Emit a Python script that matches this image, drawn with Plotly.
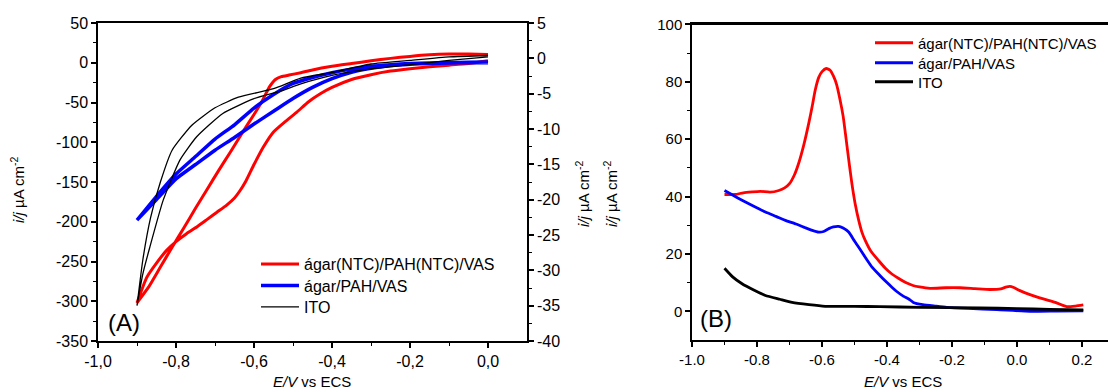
import plotly.graph_objects as go

# ---------------- Panel A data (E / V vs ECS, j / uA cm-2) ----------------
# red: agar(NTC)/PAH(NTC)/VAS  (left axis) - two branches of the voltammogram
a_red_E1 = [0.0, -0.05, -0.1, -0.15, -0.2, -0.25, -0.3, -0.35, -0.4, -0.45, -0.48, -0.51, -0.53,
            -0.545, -0.56, -0.58, -0.6, -0.63, -0.66, -0.69, -0.72, -0.75, -0.78, -0.81, -0.84, -0.87, -0.9]
a_red_j1 = [10.4, 11, 11, 10, 8, 5.5, 2.5, -1, -4.5, -9, -12.5, -15.5, -17.5,
            -21, -30, -49, -65, -88, -112, -135, -159, -183, -208, -232, -257, -282, -302]
a_red_E2 = [-0.9, -0.875, -0.85, -0.824, -0.8, -0.773, -0.745, -0.72, -0.695, -0.67, -0.65, -0.636,
            -0.62, -0.6, -0.576, -0.55, -0.52, -0.49, -0.46, -0.43, -0.4, -0.35, -0.3, -0.25, -0.2,
            -0.15, -0.1, -0.05, 0.0]
a_red_j2 = [-302, -270, -252, -236, -225, -215, -206, -197, -188, -179, -170, -161,
            -148, -128, -106, -87, -74, -62, -49, -39, -31, -21, -15, -10.5, -7.5,
            -5, -3, -1, 2.5]

# blue: agar/PAH/VAS (left axis)
a_blue_E1 = [0.0, -0.05, -0.1, -0.15, -0.2, -0.25, -0.3, -0.35, -0.4, -0.45, -0.5, -0.55, -0.6,
             -0.65, -0.7, -0.75, -0.8, -0.85, -0.9]
a_blue_j1 = [0.8, 0.6, 0.3, -0.3, -1.0, -2.5, -4.5, -8, -12.5, -18.5, -26, -40, -57,
             -78, -96, -118, -140, -168, -198]
a_blue_E2 = [-0.9, -0.85, -0.8, -0.75, -0.7, -0.65, -0.6, -0.55, -0.5, -0.45, -0.4, -0.35, -0.3,
             -0.25, -0.2, -0.15, -0.1, -0.05, 0.0]
a_blue_j2 = [-198, -172, -146, -128, -110, -94, -77, -61, -45, -31, -20, -12, -7,
             -3.5, -1.8, -0.8, -0.3, 0, 0]

# black: ITO (right axis)
a_ito_E1 = [0.0, -0.1, -0.2, -0.3, -0.4, -0.48, -0.55, -0.64, -0.7, -0.76, -0.81, -0.84, -0.865, -0.885, -0.9]
a_ito_j1 = [0.4, 0.2, -0.3, -0.8, -2.0, -2.8, -4.3, -5.5, -7.0, -9.5, -13, -17.5, -22.5, -28.5, -35]
a_ito_E2 = [-0.9, -0.885, -0.867, -0.833, -0.79, -0.747, -0.68, -0.6, -0.53, -0.48, -0.4, -0.3, -0.2, -0.1, 0.0]
a_ito_j2 = [-35, -30.5, -26.7, -20.1, -14.4, -11.1, -7.8, -5.7, -4.6, -3.6, -2.4, -1.5, -0.9, -0.3, 0.2]

# ---------------- Panel B data ----------------
b_red_E = [-0.9, -0.867, -0.842, -0.815, -0.79, -0.76, -0.733, -0.715, -0.70, -0.685, -0.672, -0.656,
           -0.641, -0.63, -0.621, -0.61, -0.6, -0.587, -0.575, -0.565, -0.555, -0.545, -0.535, -0.528,
           -0.518, -0.508, -0.498, -0.487, -0.477, -0.467, -0.45, -0.426, -0.405, -0.385, -0.365,
           -0.344, -0.32, -0.3, -0.268, -0.22, -0.175, -0.13, -0.083, -0.05, -0.035, -0.022, -0.01,
           0.009, 0.04, 0.081, 0.12, 0.153, 0.18, 0.204]
b_red_j = [40.7, 40.7, 41.3, 41.6, 41.8, 41.5, 42.1, 43, 44.5, 47.5, 51.5, 58,
           65.4, 71.5, 77, 81.5, 83.5, 84.6, 84, 82, 79, 74, 68, 62,
           53, 44.5, 37.5, 31.7, 27.5, 24.7, 21, 17.7, 15, 13, 11.5,
           10.1, 9, 8.5, 8, 8.2, 8.2, 7.9, 7.6, 7.8, 8.4, 8.7, 8.3,
           7.2, 5.8, 4.3, 3, 1.6, 1.8, 2.2]
b_blue_E = [-0.9, -0.875, -0.846, -0.81, -0.774, -0.74, -0.713, -0.68, -0.651, -0.63, -0.61, -0.595,
            -0.579, -0.565, -0.549, -0.535, -0.518, -0.5, -0.487, -0.465, -0.446, -0.422, -0.4,
            -0.385, -0.37, -0.35, -0.333, -0.319, -0.29, -0.25, -0.216, -0.15, -0.062, 0.04, 0.12, 0.204]
b_blue_j = [42.1, 40.5, 38.7, 36.6, 34.6, 33, 31.7, 30.4, 29.1, 28.2, 27.6, 27.8,
            28.8, 29.4, 29.6, 29, 27.6, 24.5, 22.3, 18.5, 15.4, 12.5, 10,
            8.4, 6.9, 5.3, 4.3, 3.1, 2.3, 1.8, 1.4, 1.0, 0.6, 0.0, 0.1, 0.2]
b_ito_E = [-0.9, -0.875, -0.846, -0.81, -0.774, -0.73, -0.692, -0.64, -0.59, -0.5, -0.422, -0.3,
           -0.114, 0.0, 0.1, 0.204]
b_ito_j = [15.0, 12.0, 9.6, 7.4, 5.5, 4.2, 3.1, 2.3, 1.75, 1.75, 1.6, 1.4, 1.2, 0.9, 0.7, 0.5]

names = ["ágar(NTC)/PAH(NTC)/VAS", "ágar/PAH/VAS", "ITO"]

# tick labels
a_xticks = [-1.0, -0.8, -0.6, -0.4, -0.2, 0.0]
a_xticktext = ["-1,0", "-0,8", "-0,6", "-0,4", "-0,2", "0,0"]
a_yticks = [50, 0, -50, -100, -150, -200, -250, -300, -350]
a_y2ticks = [5, 0, -5, -10, -15, -20, -25, -30, -35, -40]
b_xticks = [-1.0, -0.8, -0.6, -0.4, -0.2, 0.0, 0.2]
b_xticktext = ["-1.0", "-0.8", "-0.6", "-0.4", "-0.2", "0.0", "0.2"]
b_yticks = [0, 20, 40, 60, 80, 100]

RED, BLUE, BLACK = "#ff0000", "#0000ff", "#000000"
FONT = "Liberation Sans, Arial, sans-serif"

fig = go.Figure()

# Panel A
fig.add_trace(go.Scatter(x=a_red_E1 + a_red_E2, y=a_red_j1 + a_red_j2, mode="lines",
                         line=dict(color=RED, width=3, shape="spline", smoothing=0.5), name=names[0],
                         xaxis="x", yaxis="y", legend="legend", showlegend=True))
fig.add_trace(go.Scatter(x=a_blue_E1 + a_blue_E2, y=a_blue_j1 + a_blue_j2, mode="lines",
                         line=dict(color=BLUE, width=3.5, shape="spline", smoothing=0.5), name=names[1],
                         xaxis="x", yaxis="y", legend="legend3", showlegend=True))
fig.add_trace(go.Scatter(x=a_ito_E1 + a_ito_E2, y=a_ito_j1 + a_ito_j2, mode="lines",
                         line=dict(color=BLACK, width=1.3, shape="spline", smoothing=0.5), name=names[2],
                         xaxis="x", yaxis="y2", legend="legend4", showlegend=True))

# Panel B
fig.add_trace(go.Scatter(x=b_red_E, y=b_red_j, mode="lines",
                         line=dict(color=RED, width=2.8, shape="spline", smoothing=0.5),
                         name=names[0], xaxis="x2", yaxis="y3", legend="legend2", showlegend=True))
fig.add_trace(go.Scatter(x=b_blue_E, y=b_blue_j, mode="lines",
                         line=dict(color=BLUE, width=2.8, shape="spline", smoothing=0.5),
                         name=names[1], xaxis="x2", yaxis="y3", legend="legend5", showlegend=True))
fig.add_trace(go.Scatter(x=b_ito_E, y=b_ito_j, mode="lines",
                         line=dict(color=BLACK, width=2.8, shape="spline", smoothing=0.5),
                         name=names[2], xaxis="x2", yaxis="y3", legend="legend6", showlegend=True))

W, H = 1108, 392
def px(x):
    return x / W
def py(y):
    return 1 - y / H

axis_common = dict(showgrid=False, zeroline=False, showline=True, linecolor="black", linewidth=1.5,
                   ticks="outside", ticklen=5, tickwidth=1.5, tickcolor="black", automargin=False)
minor_common = dict(ticks="outside", ticklen=3, tickwidth=1.2, tickcolor="black")

def leg(x, y, size):
    return dict(x=px(x), y=py(y), xanchor="left", yanchor="middle",
                bgcolor="rgba(0,0,0,0)", font=dict(size=size), itemwidth=38,
                borderwidth=0, visible=True)

fig.update_layout(
    width=W, height=H, autosize=False, showlegend=True,
    margin=dict(l=0, r=0, t=0, b=0, autoexpand=False),
    paper_bgcolor="white", plot_bgcolor="white",
    font=dict(family=FONT, color="black", size=15),
    xaxis=dict(domain=[px(98), px(527)], range=[-1.0, 0.1], anchor="y", mirror=True,
               tickmode="array", tickvals=a_xticks, ticktext=a_xticktext,
               tickfont=dict(size=16),
               minor=dict(tickmode="array", tickvals=[-0.9, -0.7, -0.5, -0.3, -0.1], **minor_common),
               **axis_common),
    yaxis=dict(domain=[py(341), py(23)], range=[-350, 50], anchor="x",
               tickmode="array", tickvals=a_yticks, ticktext=[str(v) for v in a_yticks],
               tickfont=dict(size=16),
               minor=dict(tickmode="array", tickvals=[v - 25 for v in a_yticks[:-1]], **minor_common),
               **axis_common),
    yaxis2=dict(overlaying="y", side="right", anchor="x", range=[-40, 5],
                tickmode="array", tickvals=a_y2ticks, ticktext=[str(v) for v in a_y2ticks],
                tickfont=dict(size=16),
                minor=dict(tickmode="array", tickvals=[v - 2.5 for v in a_y2ticks[:-1]], **minor_common),
                **axis_common),
    xaxis2=dict(domain=[px(692), 1.0], range=[-1.0, 0.28], anchor="y3", mirror=True,
                tickmode="array", tickvals=b_xticks, ticktext=b_xticktext,
                tickfont=dict(size=15),
                minor=dict(tickmode="array", tickvals=[-0.9, -0.7, -0.5, -0.3, -0.1, 0.1], **minor_common),
                **axis_common),
    yaxis3=dict(domain=[py(340), py(24.3)], range=[-10, 100], anchor="x2",
                tickmode="array", tickvals=b_yticks, ticktext=[str(v) for v in b_yticks],
                tickfont=dict(size=15),
                minor=dict(tickmode="array", tickvals=[10, 30, 50, 70, 90], **minor_common),
                **axis_common),
    legend=leg(256, 264, 16),
    legend3=leg(256, 285.5, 16),
    legend4=leg(256, 307, 16),
    legend2=leg(870, 43, 15),
    legend5=leg(870, 63, 15),
    legend6=leg(870, 82, 15),
)

# top frame line of panel B (plot-area border)
fig.add_shape(type="line", xref="x2 domain", yref="y3 domain", x0=0, x1=1, y0=1, y1=1,
              line=dict(color="black", width=1.5), layer="above")

ytitle = "<i>i/j</i> µA cm<sup>-2</sup>"
xtitle = "<i>E/V</i> vs ECS"
ann = [
    dict(text=ytitle, x=px(18), y=py(190), textangle=-90, font=dict(size=15)),
    dict(text=ytitle, x=px(582), y=py(194), textangle=-90, font=dict(size=15)),
    dict(text=ytitle, x=px(610), y=py(194), textangle=-90, font=dict(size=15)),
    dict(text=xtitle, x=px(312), y=0.0, yanchor="bottom", font=dict(size=15)),
    dict(text=xtitle, x=px(903), y=py(381), font=dict(size=15)),
    dict(text="(A)", x=px(124), y=py(322), font=dict(size=24)),
    dict(text="(B)", x=px(716), y=py(318), font=dict(size=24)),
]
for a in ann:
    a.setdefault("yanchor", "middle")
    a.update(xref="paper", yref="paper", showarrow=False, xanchor="center")
    fig.add_annotation(**a)

fig.write_html("out.html", config={"displayModeBar": False},
               post_script="document.body.style.margin='0px';document.body.style.overflow='hidden';")
